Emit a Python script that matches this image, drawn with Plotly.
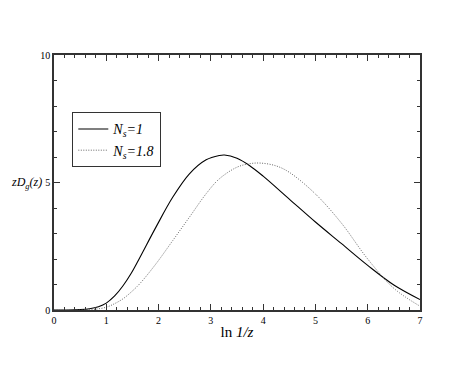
import plotly.graph_objects as go

# Data
x_ns1 = [0, 0.25, 0.5, 0.68, 0.85, 1.0, 1.16, 1.32, 1.48, 1.64, 1.95, 2.27, 2.59, 2.91, 3.16, 3.26, 3.5, 3.75, 4.0, 4.5, 5.0, 5.5, 6.0, 6.5, 7.0]
y_ns1 = [0, 0.0, 0.015, 0.05, 0.13, 0.27, 0.55, 0.95, 1.45, 2.05, 3.25, 4.42, 5.34, 5.89, 6.06, 6.08, 5.95, 5.65, 5.25, 4.35, 3.45, 2.6, 1.75, 0.98, 0.41]

x_ns18 = [0, 0.5, 0.75, 1.0, 1.16, 1.32, 1.48, 1.64, 1.95, 2.27, 2.59, 2.91, 3.16, 3.5, 3.75, 3.96, 4.25, 4.5, 5.0, 5.5, 6.0, 6.5, 7.0]
y_ns18 = [0, 0.0, 0.02, 0.11, 0.25, 0.44, 0.71, 1.03, 1.81, 2.72, 3.64, 4.56, 5.14, 5.6, 5.74, 5.76, 5.65, 5.4, 4.55, 3.4, 2.0, 0.85, 0.15]

x_ticks = [0, 1, 2, 3, 4, 5, 6, 7]
y_ticks = [0, 5, 10]

FONT = "Liberation Serif, Times New Roman, serif"

fig = go.Figure()
fig.add_trace(go.Scatter(x=x_ns1, y=y_ns1, mode="lines",
                         line=dict(color="black", width=1.1, shape="spline", smoothing=1.0),
                         name="<i>N<sub>s</sub>=1</i>"))
fig.add_trace(go.Scatter(x=x_ns18, y=y_ns18, mode="lines",
                         line=dict(color="#666666", width=1, dash="1px,1.5px", shape="spline", smoothing=1.0),
                         name="<i>N<sub>s</sub>=1.8</i>"))

axis_common = dict(showgrid=False, zeroline=False, showline=True, linecolor="#333333",
                   linewidth=1.5, ticks="inside", ticklen=6, tickcolor="#333333",
                   mirror="allticks", tickfont=dict(family=FONT, size=10, color="black"))

fig.update_xaxes(range=[0, 7], tickvals=x_ticks, ticktext=[str(v) for v in x_ticks],
                 minor=dict(dtick=0.2, ticks="inside", ticklen=3, tickcolor="#333333"),
                 title=dict(text="ln <i>1/z</i>", font=dict(family=FONT, size=15, color="black"), standoff=2),
                 **axis_common)
fig.update_yaxes(range=[0, 10], tickvals=y_ticks, ticktext=[str(v) for v in y_ticks],
                 minor=dict(dtick=1, ticks="inside", ticklen=3, tickcolor="#333333"),
                 **axis_common)

fig.add_annotation(text="<i>zD<sub>g</sub>(z)</i>", xref="paper", yref="paper",
                   x=-0.122, y=0.5, xanchor="left", yanchor="middle", showarrow=False,
                   font=dict(family=FONT, size=12, color="black"))

fig.update_layout(
    width=465, height=357,
    margin=dict(l=46, r=53, t=47, b=55),
    plot_bgcolor="white", paper_bgcolor="white",
    showlegend=True,
    legend=dict(x=0.05, y=0.775, xanchor="left", yanchor="top",
                bordercolor="#333333", borderwidth=1, bgcolor="white",
                font=dict(family=FONT, size=14, color="black"),
                tracegroupgap=0, itemwidth=30),
)

fig.write_html("out.html")
